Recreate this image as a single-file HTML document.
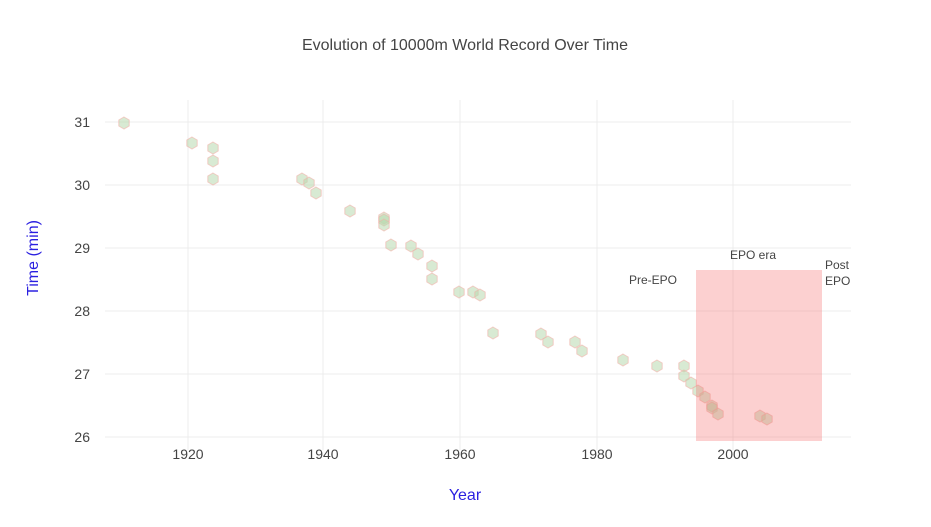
<!DOCTYPE html><html><head><style>body{margin:0;background:#fff}svg{font-family:"Liberation Sans",sans-serif}</style></head><body>
<svg width="931" height="522" viewBox="0 0 931 522">
<rect width="931" height="522" fill="#fff"/>
<g stroke="#ececec" stroke-width="1">
<line x1="188" y1="100" x2="188" y2="450"/><line x1="323" y1="100" x2="323" y2="450"/><line x1="460" y1="100" x2="460" y2="450"/><line x1="597" y1="100" x2="597" y2="450"/><line x1="733" y1="100" x2="733" y2="450"/>
<line x1="105" y1="122" x2="851" y2="122"/><line x1="105" y1="185" x2="851" y2="185"/><line x1="105" y1="248" x2="851" y2="248"/><line x1="105" y1="311" x2="851" y2="311"/><line x1="105" y1="374" x2="851" y2="374"/><line x1="105" y1="437" x2="851" y2="437"/>
</g>
<defs><polygon id="h" points="0,-6 5.2,-3 5.2,3 0,6 -5.2,3 -5.2,-3" fill="#b8d9ae" fill-opacity="0.55" stroke="#f2b0a8" stroke-opacity="0.6" stroke-width="1"/></defs>
<g>
<use href="#h" x="124" y="123"/><use href="#h" x="192" y="143"/><use href="#h" x="213" y="148"/><use href="#h" x="213" y="161"/><use href="#h" x="213" y="179"/><use href="#h" x="302" y="179"/><use href="#h" x="309" y="183"/><use href="#h" x="316" y="193"/><use href="#h" x="350" y="211"/><use href="#h" x="384" y="218"/><use href="#h" x="384" y="220"/><use href="#h" x="384" y="225"/><use href="#h" x="391" y="245"/><use href="#h" x="411" y="246"/><use href="#h" x="418" y="254"/><use href="#h" x="432" y="266"/><use href="#h" x="432" y="279"/><use href="#h" x="459" y="292"/><use href="#h" x="473" y="292"/><use href="#h" x="480" y="295"/><use href="#h" x="493" y="333"/><use href="#h" x="541" y="334"/><use href="#h" x="548" y="342"/><use href="#h" x="575" y="342"/><use href="#h" x="582" y="351"/><use href="#h" x="623" y="360"/><use href="#h" x="657" y="366"/><use href="#h" x="684" y="366"/><use href="#h" x="684" y="376"/><use href="#h" x="691" y="383"/><use href="#h" x="698" y="391"/><use href="#h" x="705" y="397"/><use href="#h" x="712" y="406"/><use href="#h" x="712" y="408"/><use href="#h" x="718" y="414"/><use href="#h" x="760" y="416"/><use href="#h" x="767" y="419"/>
</g>
<rect x="696" y="270" width="126" height="171" fill="#f56464" fill-opacity="0.3"/>
<text x="465" y="50" text-anchor="middle" font-size="16" fill="#444">Evolution of 10000m World Record Over Time</text>
<g font-size="14" fill="#444" text-anchor="middle">
<text x="188" y="459">1920</text><text x="323" y="459">1940</text><text x="460" y="459">1960</text><text x="597" y="459">1980</text><text x="733" y="459">2000</text>
</g>
<g font-size="14" fill="#444" text-anchor="end">
<text x="90" y="127">31</text><text x="90" y="190">30</text><text x="90" y="253">29</text><text x="90" y="316">28</text><text x="90" y="379">27</text><text x="90" y="442">26</text>
</g>
<text x="465" y="500" text-anchor="middle" font-size="16" fill="#2a1fe0">Year</text>
<text transform="translate(38,258) rotate(-90)" text-anchor="middle" font-size="16" fill="#2a1fe0">Time (min)</text>
<g font-size="12" fill="#444">
<text x="653" y="284" text-anchor="middle">Pre-EPO</text>
<text x="753" y="259" text-anchor="middle">EPO era</text>
<text x="825" y="269">Post</text><text x="825" y="285">EPO</text>
</g>
</svg></body></html>
